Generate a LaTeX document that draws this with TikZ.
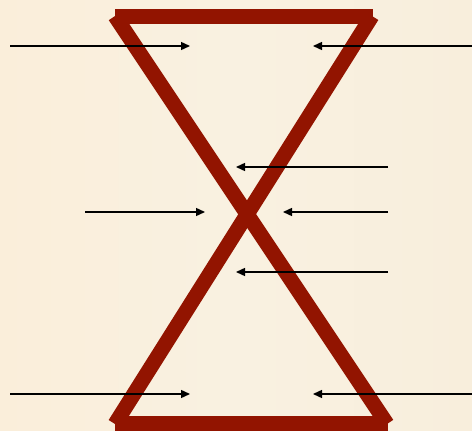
\documentclass[tikz,border=0pt]{standalone}
\usetikzlibrary{arrows.meta}

\definecolor{glassred}{HTML}{921400}
\definecolor{paperleft}{HTML}{FAEEDA}
\definecolor{papermid}{HTML}{F9F1E1}
\definecolor{paperright}{HTML}{F8EEDC}

\begin{document}
\begin{tikzpicture}[
    x=1pt,
    y=-1pt,
    glass/.style={draw=glassred, line width=15pt, line cap=butt},
    pointer/.style={draw=black, line width=1.4pt, -{Triangle[length=9pt, width=8pt]}}
]
    % paper
    \useasboundingbox (0,0) rectangle (472,431);
    \shade[left color=paperleft, right color=paperright, middle color=papermid] (0,0) rectangle (472,431);

    % hourglass corners
    \coordinate (tl) at (115,16);
    \coordinate (tr) at (373,16);
    \coordinate (bl) at (115,423);
    \coordinate (br) at (388,423);
    \coordinate (tldiag) at (115,16);
    \coordinate (trdiag) at (372,16);
    \coordinate (bldiag) at (115,424);
    \coordinate (brdiag) at (387,424);

    \draw[glass] (tl) -- (tr);
    \draw[glass] (bl) -- (br);
    \draw[glass] (tldiag) -- (brdiag);
    \draw[glass] (trdiag) -- (bldiag);

    % arrow ends
    \coordinate (topinl) at (10,46);
    \coordinate (topendl) at (190,46);
    \coordinate (topinr) at (472,46);
    \coordinate (topendr) at (313,46);

    \coordinate (upperin) at (388,167);
    \coordinate (upperend) at (236,167);

    \coordinate (midinl) at (85,212);
    \coordinate (midendl) at (205,212);
    \coordinate (midinr) at (388,212);
    \coordinate (midendr) at (283,212);

    \coordinate (lowerin) at (388,272);
    \coordinate (lowerend) at (236,272);

    \coordinate (botinl) at (10,394);
    \coordinate (botendl) at (190,394);
    \coordinate (botinr) at (472,394);
    \coordinate (botendr) at (313,394);

    \foreach \from/\to in {topinl/topendl, topinr/topendr, upperin/upperend,
        midinl/midendl, midinr/midendr, lowerin/lowerend,
        botinl/botendl, botinr/botendr}{
        \draw[pointer] (\from) -- (\to);
    }

\end{tikzpicture}
\end{document}
